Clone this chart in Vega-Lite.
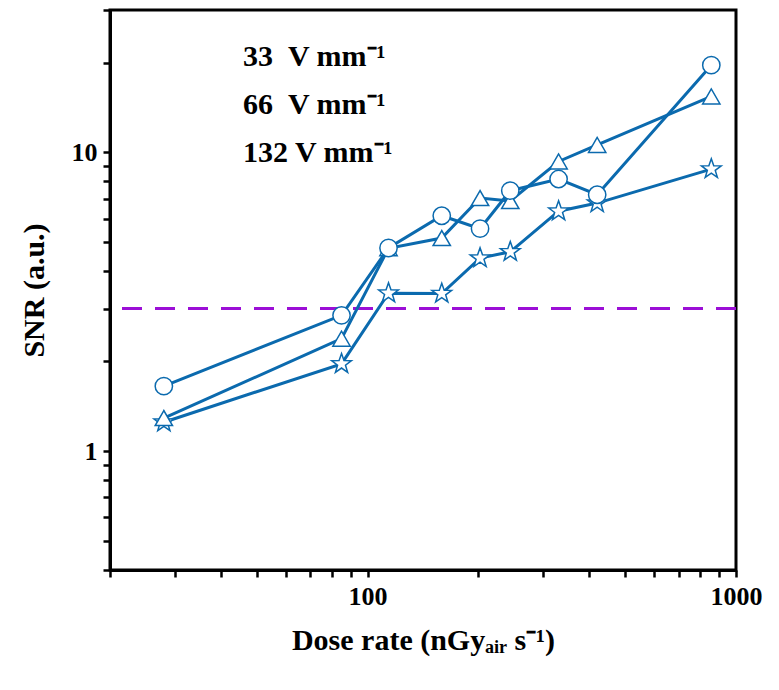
{
  "$schema": "https://vega.github.io/schema/vega-lite/v6.json",
  "width": 626,
  "height": 560,
  "autosize": {"type": "none"},
  "padding": {"left": 110, "top": 10, "right": 43, "bottom": 120},
  "background": "white",
  "data": {
    "values": [
      {"series": "33\u00a0\u00a0V mm⁻¹", "dose": 28, "snr": 1.25},
      {"series": "33\u00a0\u00a0V mm⁻¹", "dose": 85, "snr": 1.96},
      {"series": "33\u00a0\u00a0V mm⁻¹", "dose": 114, "snr": 3.38},
      {"series": "33\u00a0\u00a0V mm⁻¹", "dose": 159, "snr": 3.37},
      {"series": "33\u00a0\u00a0V mm⁻¹", "dose": 202, "snr": 4.43},
      {"series": "33\u00a0\u00a0V mm⁻¹", "dose": 244, "snr": 4.65},
      {"series": "33\u00a0\u00a0V mm⁻¹", "dose": 330, "snr": 6.36},
      {"series": "33\u00a0\u00a0V mm⁻¹", "dose": 420, "snr": 6.77},
      {"series": "33\u00a0\u00a0V mm⁻¹", "dose": 857, "snr": 8.8},
      {"series": "66\u00a0\u00a0V mm⁻¹", "dose": 28, "snr": 1.29},
      {"series": "66\u00a0\u00a0V mm⁻¹", "dose": 85, "snr": 2.38},
      {"series": "66\u00a0\u00a0V mm⁻¹", "dose": 114, "snr": 4.78},
      {"series": "66\u00a0\u00a0V mm⁻¹", "dose": 159, "snr": 5.17},
      {"series": "66\u00a0\u00a0V mm⁻¹", "dose": 202, "snr": 7.04},
      {"series": "66\u00a0\u00a0V mm⁻¹", "dose": 244, "snr": 6.88},
      {"series": "66\u00a0\u00a0V mm⁻¹", "dose": 330, "snr": 9.33},
      {"series": "66\u00a0\u00a0V mm⁻¹", "dose": 420, "snr": 10.6},
      {"series": "66\u00a0\u00a0V mm⁻¹", "dose": 857, "snr": 15.4},
      {"series": "132 V mm⁻¹", "dose": 28, "snr": 1.65},
      {"series": "132 V mm⁻¹", "dose": 85, "snr": 2.85},
      {"series": "132 V mm⁻¹", "dose": 114, "snr": 4.79},
      {"series": "132 V mm⁻¹", "dose": 159, "snr": 6.14},
      {"series": "132 V mm⁻¹", "dose": 202, "snr": 5.56},
      {"series": "132 V mm⁻¹", "dose": 244, "snr": 7.45},
      {"series": "132 V mm⁻¹", "dose": 330, "snr": 8.15},
      {"series": "132 V mm⁻¹", "dose": 420, "snr": 7.22},
      {"series": "132 V mm⁻¹", "dose": 857, "snr": 19.6}
    ]
  },
  "encoding": {
    "x": {
      "field": "dose", "type": "quantitative",
      "scale": {"type": "log", "domain": [20, 1000], "nice": false},
      "axis": {
        "title": "Dose rate (nGyₐᵢᵣ s⁻¹)",
        "values": [20, 30, 40, 50, 60, 70, 80, 90, 100, 200, 300, 400, 500, 600, 700, 800, 900, 1000],
        "format": "d",
        "labelExpr": "datum.value === 100 || datum.value === 1000 ? datum.label : ''",
        "tickSize": 7,
        "labelFlush": false,
        "labelPadding": 6,
        "titlePadding": 16
      }
    },
    "y": {
      "field": "snr", "type": "quantitative",
      "scale": {"type": "log", "domain": [0.4, 30], "nice": false},
      "axis": {
        "title": "SNR (a.u.)",
        "values": [0.4, 0.5, 0.6, 0.7, 0.8, 0.9, 1, 2, 3, 4, 5, 6, 7, 8, 9, 10, 20, 30],
        "format": "d",
        "labelExpr": "datum.value === 1 || datum.value === 10 ? datum.label : ''",
        "tickSize": 7,
        "labelFlush": false,
        "labelPadding": 6,
        "titlePadding": 22
      }
    }
  },
  "layer": [
    {
      "mark": {"type": "rule", "color": "#9b0fd6", "strokeWidth": 2.5, "strokeDash": [20, 13]},
      "encoding": {"y": {"datum": 3}, "x": null}
    },
    {
      "mark": {"type": "line", "color": "#0b6aae", "strokeWidth": 3},
      "encoding": {"detail": {"field": "series", "type": "nominal"}}
    },
    {
      "mark": {"type": "point", "filled": false, "fill": "white", "fillOpacity": 1, "stroke": "#0b6aae", "strokeWidth": 1.5, "size": 300, "opacity": 1},
      "encoding": {
        "shape": {
          "field": "series", "type": "nominal",
          "scale": {
            "domain": ["33\u00a0\u00a0V mm⁻¹", "66\u00a0\u00a0V mm⁻¹", "132 V mm⁻¹"],
            "range": ["M0,-1.2L0.282,-0.389L1.141,-0.371L0.456,0.149L0.705,0.971L0,0.48L-0.705,0.971L-0.456,0.149L-1.141,-0.371L-0.282,-0.389Z", "triangle-up", "circle"]
          },
          "legend": {
            "orient": "none", "legendX": 62, "legendY": 32, "title": null,
            "symbolSize": 400, "padding": 0, "rowPadding": 18,
            "labelFont": "Liberation Serif", "labelFontWeight": "bold", "labelFontSize": 30,
            "labelColor": "black", "labelOffset": 41, "labelLimit": 400,
            "symbolFillColor": "white", "symbolStrokeColor": "#0b6aae", "symbolStrokeWidth": 2.5,
            "encode": {
              "symbols": {
                "update": {
                  "shape": {"signal": "datum.index === 0 ? 'M-4.2,0H-0.54M0.54,0H4.2M0,-1L0.235,-0.324L0.951,-0.309L0.38,0.124L0.588,0.809L0,0.4L-0.588,0.809L-0.38,0.124L-0.951,-0.309L-0.235,-0.324Z' : datum.index === 1 ? 'M-4.2,0H-0.58M0.58,0H4.2M0,-1L1.1,0.9L-1.1,0.9Z' : 'M-4.2,0H-1M1,0H4.2M1,0A1,1,0,1,1,-1,0A1,1,0,1,1,1,0Z'"},
                  "fill": {"value": "white"},
                  "stroke": {"value": "#0b6aae"},
                  "strokeWidth": {"value": 2.5},
                  "opacity": {"value": 1}
                }
              }
            }
          }
        }
      }
    }
  ],
  "config": {
    "view": {"stroke": "black", "strokeWidth": 3},
    "axis": {
      "domainColor": "black", "domainWidth": 3,
      "tickColor": "black", "tickWidth": 2.5,
      "grid": false,
      "labelFont": "Liberation Serif", "labelFontWeight": "bold", "labelFontSize": 26, "labelColor": "black",
      "titleFont": "Liberation Serif", "titleFontWeight": "bold", "titleFontSize": 30, "titleColor": "black"
    }
  }
}
